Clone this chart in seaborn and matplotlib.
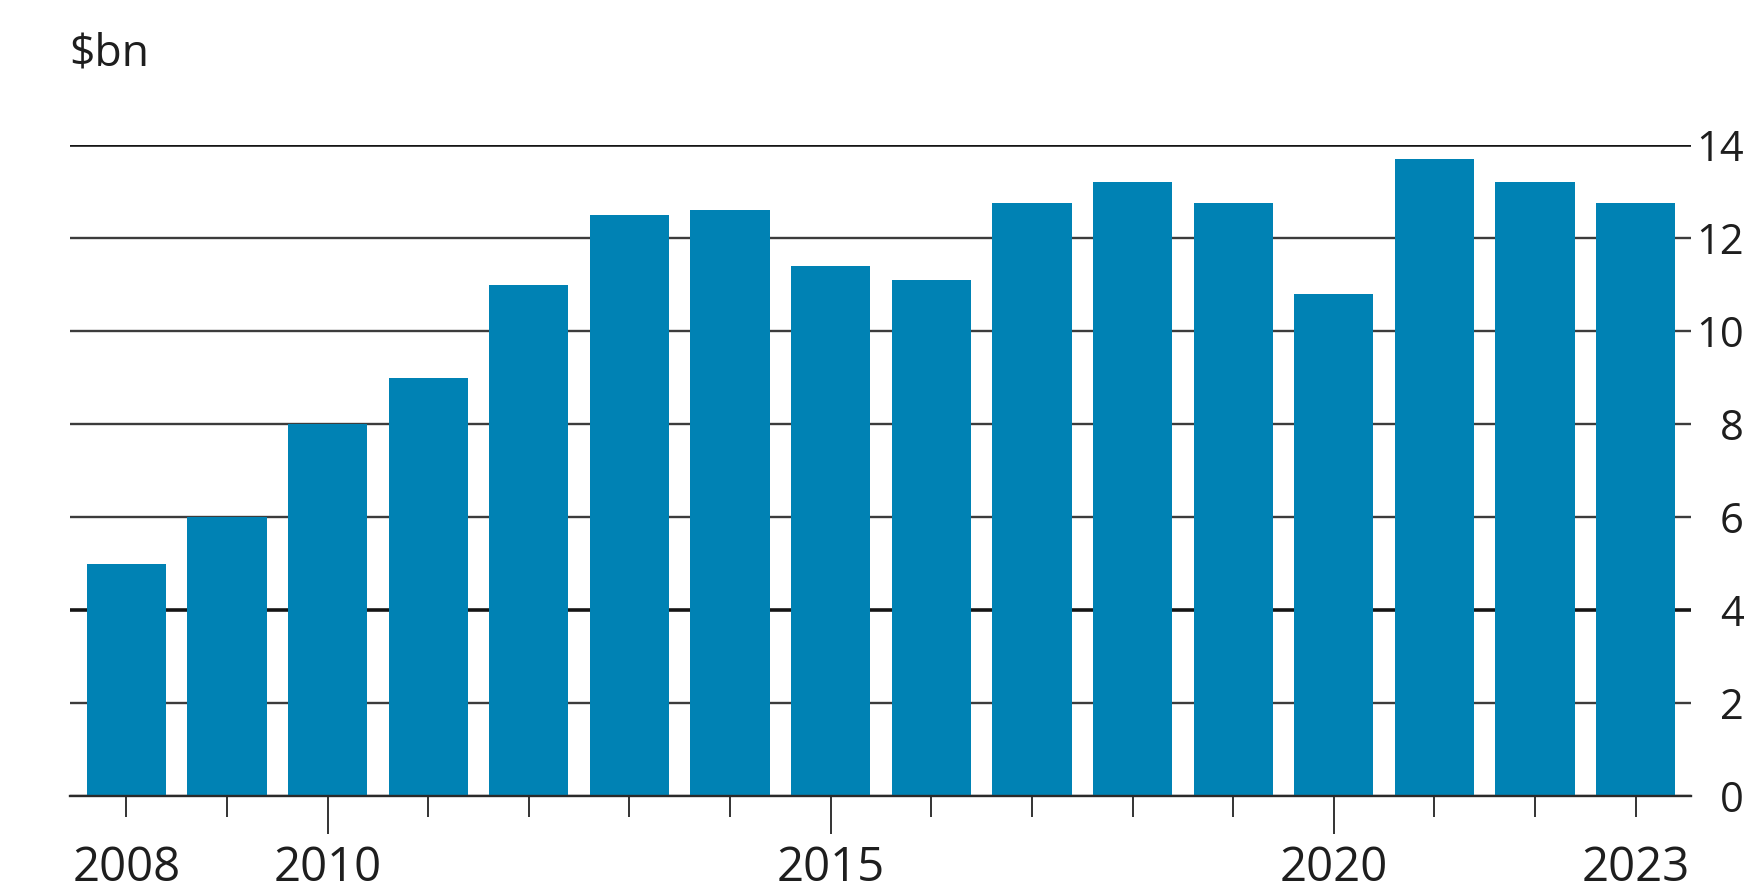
import matplotlib
matplotlib.use("Agg")
import matplotlib.pyplot as plt
import seaborn as sns
import pandas as pd

# Annual values, $bn
years = list(range(2008, 2024))
values = [5.0, 6.0, 8.0, 9.0, 11.0, 12.5, 12.6, 11.4, 11.1, 12.75, 13.2, 12.75, 10.8, 13.7, 13.2, 12.75]
labelled_years = [2008, 2010, 2015, 2020, 2023]
long_tick_years = [2010, 2015, 2020]
y_ticks = [0, 2, 4, 6, 8, 10, 12, 14]
unit_label = "$bn"

BAR_COLOR = "#0082B4"
GRID_COLOR = "#3c3c3c"
TEXT_COLOR = "#1e1e1e"

sns.set_theme(style="white")
plt.rcParams["font.family"] = ["Open Sans", "DejaVu Sans"]

df = pd.DataFrame({"year": [str(y) for y in years], "value": values})

fig = plt.figure(figsize=(17.48, 8.89), dpi=100)
ax = fig.add_axes([70 / 1748, 1 - 796 / 889, (1691 - 70) / 1748, (796 - 145) / 889])

sns.barplot(data=df, x="year", y="value", color=BAR_COLOR, saturation=1,
            width=0.787, ax=ax, edgecolor="none")

ax.set_xlim(-0.56, 15.55)
ax.set_ylim(0, 14)
ax.set_xlabel("")
ax.set_ylabel("")

# Horizontal rules behind the bars
ax.set_axisbelow(True)
ax.set_yticks(y_ticks)
ax.yaxis.grid(True, color=GRID_COLOR, linewidth=1.7)
for val, gl in zip(y_ticks, ax.get_ygridlines()):
    if val in (4, 14):
        gl.set_linewidth(2.6)
        gl.set_color("#151515")

# Value labels on the right, right-aligned
ax.yaxis.tick_right()
ax.tick_params(axis="y", length=0, pad=38, labelsize=30, labelcolor=TEXT_COLOR)
for lbl in ax.get_yticklabels():
    lbl.set_horizontalalignment("right")

# Year ticks: every year marked, a few longer, selected years labelled
ax.set_xticks(range(len(years)))
ax.set_xticklabels([str(y) if y in labelled_years else "" for y in years])
ax.tick_params(axis="x", bottom=True, length=27, width=1.4, color="#333333",
               pad=8, labelsize=34, labelcolor=TEXT_COLOR, direction="out")
for y, tick in zip(years, ax.xaxis.get_major_ticks()):
    if y not in long_tick_years:
        tick.tick1line.set_markersize(15)

for side in ("top", "left", "right"):
    ax.spines[side].set_visible(False)
ax.spines["bottom"].set_color("#2a2a2a")
ax.spines["bottom"].set_linewidth(1.7)

fig.text(69 / 1748, 1 - 65 / 889, unit_label, fontsize=32, color=TEXT_COLOR,
         ha="left", va="baseline")

fig.savefig("out.png", dpi=100, facecolor="white")
